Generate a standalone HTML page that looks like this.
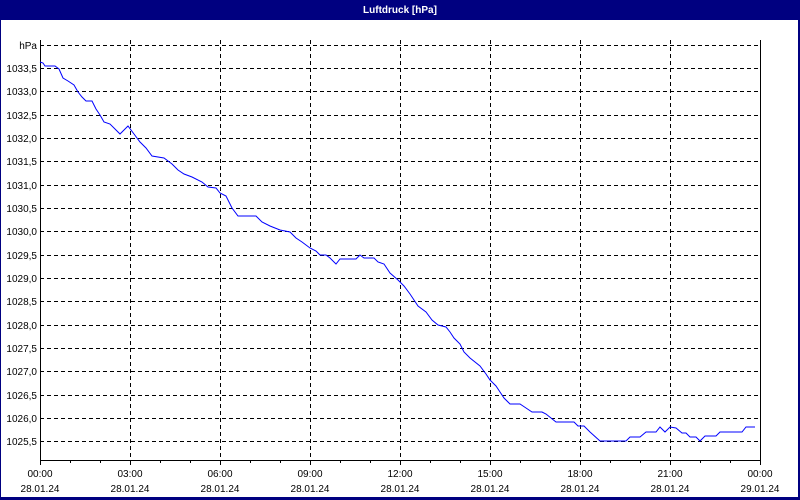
<!DOCTYPE html>
<html><head><meta charset="utf-8"><style>
html,body{margin:0;padding:0;background:#fff}
svg{display:block}
text{font-family:"Liberation Sans","DejaVu Sans",sans-serif;font-size:10px;fill:#000}
</style></head><body>
<svg width="800" height="500" viewBox="0 0 800 500" xmlns="http://www.w3.org/2000/svg">
<rect x="0" y="0" width="800" height="500" fill="#000080"/>
<rect x="1" y="20" width="797" height="477" fill="#fff"/>
<text x="400" y="13" text-anchor="middle" style="font-weight:bold;fill:#fff;font-size:10px">Luftdruck [hPa]</text>
<g stroke="#000" stroke-width="1" stroke-dasharray="4,3" shape-rendering="crispEdges">
<line x1="40" y1="45.5" x2="760" y2="45.5"/>
<line x1="40" y1="68.5" x2="760" y2="68.5"/>
<line x1="40" y1="91.5" x2="760" y2="91.5"/>
<line x1="40" y1="115.5" x2="760" y2="115.5"/>
<line x1="40" y1="138.5" x2="760" y2="138.5"/>
<line x1="40" y1="161.5" x2="760" y2="161.5"/>
<line x1="40" y1="185.5" x2="760" y2="185.5"/>
<line x1="40" y1="208.5" x2="760" y2="208.5"/>
<line x1="40" y1="231.5" x2="760" y2="231.5"/>
<line x1="40" y1="255.5" x2="760" y2="255.5"/>
<line x1="40" y1="278.5" x2="760" y2="278.5"/>
<line x1="40" y1="301.5" x2="760" y2="301.5"/>
<line x1="40" y1="325.5" x2="760" y2="325.5"/>
<line x1="40" y1="348.5" x2="760" y2="348.5"/>
<line x1="40" y1="371.5" x2="760" y2="371.5"/>
<line x1="40" y1="395.5" x2="760" y2="395.5"/>
<line x1="40" y1="418.5" x2="760" y2="418.5"/>
<line x1="40" y1="441.5" x2="760" y2="441.5"/>
<line x1="130.5" y1="40" x2="130.5" y2="460"/>
<line x1="220.5" y1="40" x2="220.5" y2="460"/>
<line x1="310.5" y1="40" x2="310.5" y2="460"/>
<line x1="400.5" y1="40" x2="400.5" y2="460"/>
<line x1="490.5" y1="40" x2="490.5" y2="460"/>
<line x1="580.5" y1="40" x2="580.5" y2="460"/>
<line x1="670.5" y1="40" x2="670.5" y2="460"/>
</g>
<g stroke="#000" stroke-width="1" shape-rendering="crispEdges">
<line x1="40.5" y1="40" x2="40.5" y2="461"/>
<line x1="760.5" y1="40" x2="760.5" y2="461"/>
<line x1="40" y1="460.5" x2="761" y2="460.5"/>
<path d="M40.5 460v5M70.5 460v3M100.5 460v3M130.5 460v5M160.5 460v3M190.5 460v3M220.5 460v5M250.5 460v3M280.5 460v3M310.5 460v5M340.5 460v3M370.5 460v3M400.5 460v5M430.5 460v3M460.5 460v3M490.5 460v5M520.5 460v3M550.5 460v3M580.5 460v5M610.5 460v3M640.5 460v3M670.5 460v5M700.5 460v3M730.5 460v3M760.5 460v5"/>
</g>
<g text-anchor="end">
<text x="37" y="49">hPa</text>
<text x="37" y="72">1033,5</text>
<text x="37" y="95">1033,0</text>
<text x="37" y="119">1032,5</text>
<text x="37" y="142">1032,0</text>
<text x="37" y="165">1031,5</text>
<text x="37" y="189">1031,0</text>
<text x="37" y="212">1030,5</text>
<text x="37" y="235">1030,0</text>
<text x="37" y="259">1029,5</text>
<text x="37" y="282">1029,0</text>
<text x="37" y="305">1028,5</text>
<text x="37" y="329">1028,0</text>
<text x="37" y="352">1027,5</text>
<text x="37" y="375">1027,0</text>
<text x="37" y="399">1026,5</text>
<text x="37" y="422">1026,0</text>
<text x="37" y="445">1025,5</text>
</g>
<g text-anchor="middle">
<text x="40" y="477">00:00</text><text x="40" y="492">28.01.24</text>
<text x="130" y="477">03:00</text><text x="130" y="492">28.01.24</text>
<text x="220" y="477">06:00</text><text x="220" y="492">28.01.24</text>
<text x="310" y="477">09:00</text><text x="310" y="492">28.01.24</text>
<text x="400" y="477">12:00</text><text x="400" y="492">28.01.24</text>
<text x="490" y="477">15:00</text><text x="490" y="492">28.01.24</text>
<text x="580" y="477">18:00</text><text x="580" y="492">28.01.24</text>
<text x="670" y="477">21:00</text><text x="670" y="492">28.01.24</text>
<text x="760" y="477">00:00</text><text x="760" y="492">29.01.24</text>
</g>
<polyline fill="none" stroke="#0000ff" stroke-width="1" points="40,62 43,63 45,66 55,66 59,69 63,78 68,81 74,85 78,92 82,97 86,101 92,101 96,109 100,115 104,122 110,124 116,130 120,134 124,130 128,126 134,134 140,142 146,148 152,156 164,158 172,164 178,170 184,174 192,177 202,182 208,187 216,188 220,193 226,196 232,208 238,216 256,216 262,222 270,226 280,230 290,232 296,238 302,242 310,248 316,251 320,255 326,255 330,258 336,264 340,259 356,259 360,255 364,258 374,258 378,262 384,264 390,273 398,280 404,286 410,294 414,300 418,306 426,312 432,320 438,325 446,327 450,332 454,338 460,344 464,352 470,358 480,366 486,374 490,380 496,386 500,392 504,398 510,404 520,404 526,408 532,412 542,412 546,414 556,422 574,422 578,426 584,426 590,432 600,441 626,441 630,437 640,437 646,432 656,432 660,427 665,432 670,427 676,428 682,433 686,433 690,437 696,437 700,441 705,436 716,436 720,432 742,432 746,427 755,427"/>
</svg>
</body></html>
